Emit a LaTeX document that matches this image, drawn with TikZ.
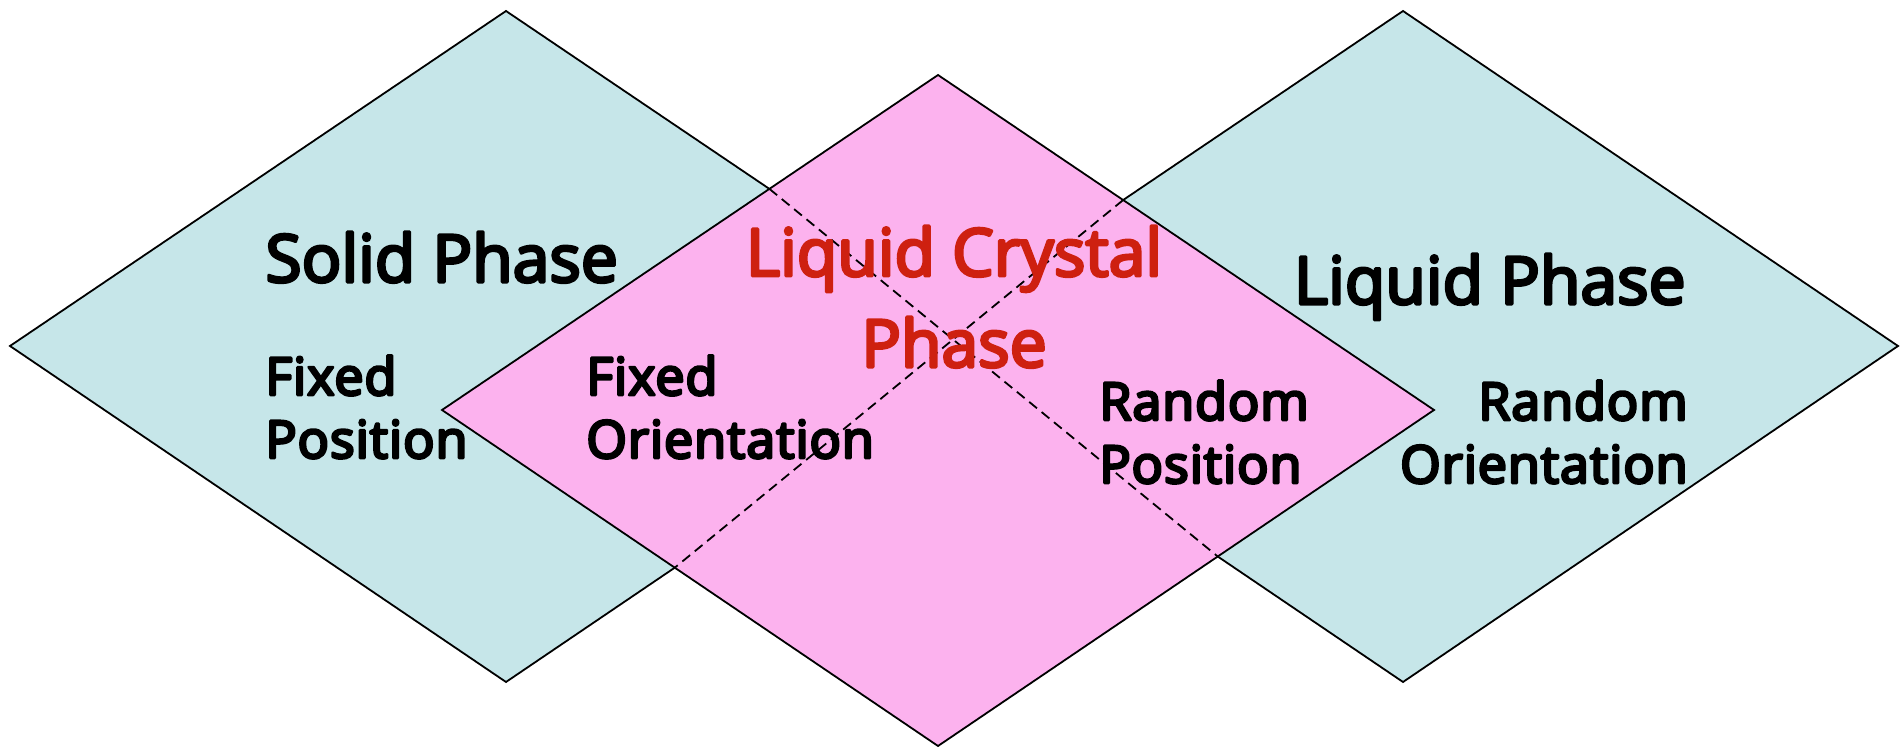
\documentclass[tikz,border=0pt]{standalone}
\usepackage{fontspec}
\newfontfamily\lab{Open Sans}
\newfontfamily\labs{Open Sans}[LetterSpace=1.8]
\newcommand\embtext[2]{\special{pdf:literal direct 2 Tr #1 w 1 j}#2\special{pdf:literal direct 0 Tr}}
\definecolor{cyanfill}{RGB}{198,230,233}
\definecolor{pinkfill}{RGB}{252,178,238}
\definecolor{redtext}{RGB}{206,32,16}
\tikzset{
  phase/.style={draw=black, line width=0.9pt, line join=miter},
  cross/.style={draw=black, line width=0.9pt, dash pattern=on 5pt off 3pt},
  big/.style={anchor=base west, inner sep=0pt, font=\lab\fontsize{33pt}{36pt}\selectfont},
  bigr/.style={anchor=base east, inner sep=0pt, font=\lab\fontsize{33pt}{36pt}\selectfont},
  small/.style={anchor=base west, inner sep=0pt, font=\labs\fontsize{26pt}{30pt}\selectfont},
  smallr/.style={anchor=base east, inner sep=0pt, font=\labs\fontsize{26pt}{30pt}\selectfont},
  lc/.style={anchor=base, inner sep=0pt, text=redtext, font=\lab\fontsize{33pt}{36pt}\selectfont}
}
\begin{document}
\begin{tikzpicture}[x=0.5pt,y=-0.5pt]
\useasboundingbox (0,0) rectangle (1904,747);
% vertices
\coordinate (LT) at (506,11);  \coordinate (LL) at (10,346);
\coordinate (LB) at (506,682); \coordinate (LR) at (1002,346);
\coordinate (RT) at (1403,11); \coordinate (RR) at (1898,346);
\coordinate (RB) at (1403,682);\coordinate (RL) at (907,346);
\coordinate (PT) at (938,75);  \coordinate (PL) at (442,410);
\coordinate (PB) at (938,746); \coordinate (PR) at (1434,410);
% diamonds
\fill[cyanfill] (LT) -- (LR) -- (LB) -- (LL) -- cycle;
\draw[phase] (LT) -- (LR) -- (LB) -- (LL) -- cycle;
\fill[cyanfill] (RT) -- (RR) -- (RB) -- (RL) -- cycle;
\draw[phase] (RT) -- (RR) -- (RB) -- (RL) -- cycle;
\fill[pinkfill] (PT) -- (PR) -- (PB) -- (PL) -- cycle;
\draw[phase] (PT) -- (PR) -- (PB) -- (PL) -- cycle;
% intersection points
\coordinate (I1) at (intersection of LT--LR and PL--PT);
\coordinate (I2) at (intersection of LB--LR and PL--PB);
\coordinate (I3) at (intersection of RL--RT and PT--PR);
\coordinate (I4) at (intersection of RL--RB and PB--PR);
\draw[cross] (I1) -- (I4);
\draw[cross] (I3) -- (I2);
% texts
\node[big] (solid) at (265,282) {\embtext{1.5}{Solid Phase}};
\node[small] (fix1) at (265,395) {\embtext{1.4}{Fixed}};
\node[small] (pos1) at (265,458) {\embtext{1.4}{Position}};
\node[small] (fix2) at (586,395) {\embtext{1.4}{Fixed}};
\node[small] (ori1) at (586,458) {\embtext{1.4}{Orientation}};
\node[lc] (lc1) at (954,276) {\embtext{1.5}{Liquid Crystal}};
\node[lc] (lc2) at (954,367) {\embtext{1.5}{Phase}};
\node[small] (ran1) at (1099,420) {\embtext{1.4}{Random}};
\node[small] (pos2) at (1099,483) {\embtext{1.4}{Position}};
\node[bigr] (liq) at (1686,304) {\embtext{1.5}{Liquid Phase}};
\node[smallr] (ran2) at (1688,420) {\embtext{1.4}{Random}};
\node[smallr] (ori2) at (1688,483) {\embtext{1.4}{Orientation}};
\end{tikzpicture}
\end{document}
